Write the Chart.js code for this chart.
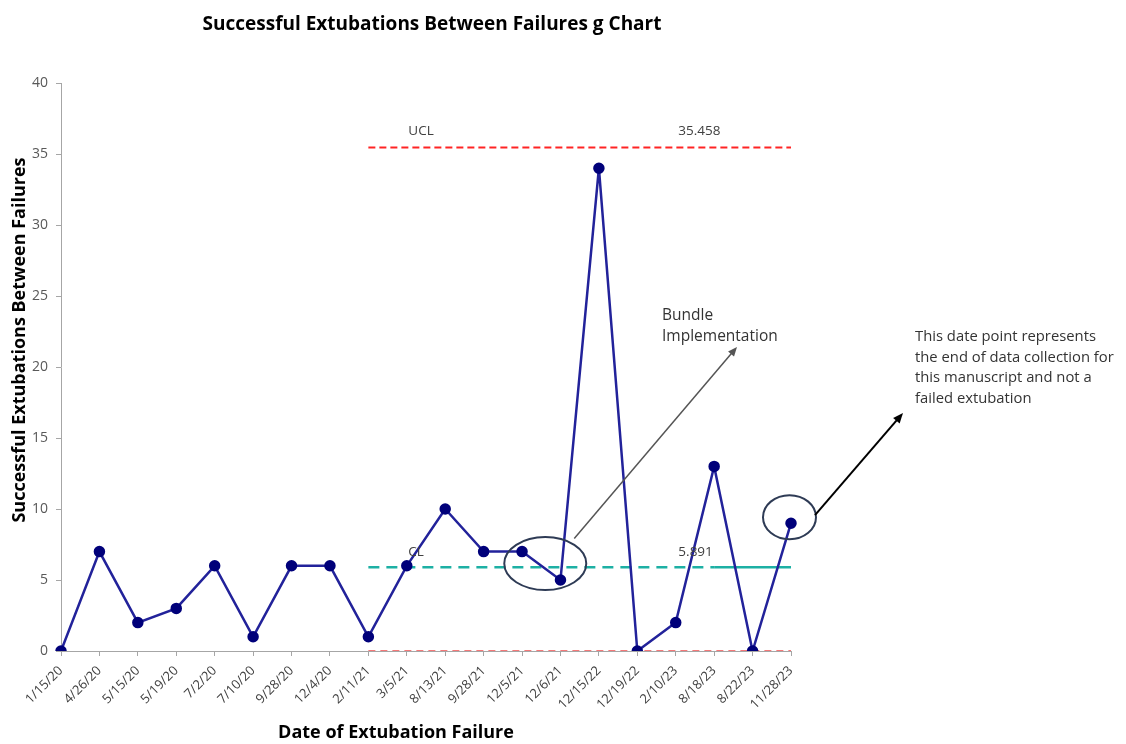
<!DOCTYPE html>
<html><head><meta charset="utf-8">
<script src="https://cdn.jsdelivr.net/npm/chart.js@4.4.1/dist/chart.umd.min.js"></script>
<style>html,body{margin:0;padding:0;background:#fff;}#wrap{width:1126px;height:744px;}</style>
</head><body><div id="wrap"><canvas id="c" width="1126" height="744"></canvas></div>
<script>
const categories = ['1/15/20','4/26/20','5/15/20','5/19/20','7/2/20','7/10/20','9/28/20','12/4/20','2/11/21','3/5/21','8/13/21','9/28/21','12/5/21','12/6/21','12/15/22','12/19/22','2/10/23','8/18/23','8/22/23','11/28/23'];
const values = [0,7,2,3,6,1,6,6,1,6,10,7,7,5,34,0,2,13,0,9];
const uclValue = 35.458;
const clValue = 5.891;
const lclValue = 0;
const limitStartIndex = 8;
const yMin = 0, yMax = 40, yStep = 5;
const chartTitle = 'Successful Extubations Between Failures g Chart';
const yTitle = 'Successful Extubations Between Failures';
const xTitle = 'Date of Extubation Failure';
const bundleNote = ['Bundle', 'Implementation'];
const endNote = ['This date point represents', 'the end of data collection for', 'this manuscript and not a', 'failed extubation'];

const limitSeries = v => categories.map((_, i) => i >= limitStartIndex ? v : null);
const FONT = "'Open Sans', 'DejaVu Sans', sans-serif";

function arrow(ctx, x1, y1, x2, y2, color, w, head) {
  ctx.save();
  ctx.strokeStyle = color; ctx.fillStyle = color; ctx.lineWidth = w;
  const a = Math.atan2(y2 - y1, x2 - x1);
  ctx.beginPath(); ctx.moveTo(x1, y1);
  ctx.lineTo(x2 - Math.cos(a) * head * 0.8, y2 - Math.sin(a) * head * 0.8); ctx.stroke();
  ctx.beginPath(); ctx.moveTo(x2, y2);
  ctx.lineTo(x2 - head * Math.cos(a - 0.4), y2 - head * Math.sin(a - 0.4));
  ctx.lineTo(x2 - head * Math.cos(a + 0.4), y2 - head * Math.sin(a + 0.4));
  ctx.closePath(); ctx.fill();
  ctx.restore();
}

const annot = {
  id: 'annot',
  afterDraw(chart) {
    const ctx = chart.ctx, xs = chart.scales.x, ys = chart.scales.y;
    const xAt = i => xs.getPixelForValue(i), yAt = v => ys.getPixelForValue(v);
    ctx.save();
    // titles
    ctx.fillStyle = '#000'; ctx.textAlign = 'center'; ctx.textBaseline = 'middle';
    ctx.font = "bold 19px " + FONT;
    ctx.fillText(chartTitle, 432, 25);
    ctx.font = "bold 18px " + FONT;
    ctx.fillText(xTitle, 396, 733);
    ctx.save();
    ctx.translate(20, 340); ctx.rotate(-Math.PI / 2);
    ctx.fillText(yTitle, 0, 0);
    ctx.restore();
    // limit labels
    ctx.fillStyle = '#404040'; ctx.font = "13.5px " + FONT; ctx.textAlign = 'left';
    const xl = xAt(limitStartIndex);
    ctx.fillText('UCL', xl + 40, yAt(uclValue) - 16);
    ctx.fillText(uclValue.toFixed(3), xl + 310, yAt(uclValue) - 16);
    ctx.fillText('CL', xl + 40, yAt(clValue) - 15);
    ctx.fillText(clValue.toFixed(3), xl + 310, yAt(clValue) - 15);
    // ellipses
    ctx.strokeStyle = '#2E3B55'; ctx.lineWidth = 2;
    const e1x = (xAt(12) + xAt(13)) / 2 + 4, e1y = yAt(6.16);
    ctx.beginPath(); ctx.ellipse(e1x, e1y, 41, 26.5, 0, 0, Math.PI * 2); ctx.stroke();
    const e2x = xAt(19) - 1.5, e2y = yAt(9) - 6;
    ctx.beginPath(); ctx.ellipse(e2x, e2y, 26.5, 22, 0, 0, Math.PI * 2); ctx.stroke();
    // arrows
    arrow(ctx, e1x + 29, e1y - 25, 737, 347, '#555555', 1.5, 10);
    arrow(ctx, e2x + 25.5, e2y - 2, 903, 413, '#000000', 2, 11);
    // notes
    ctx.fillStyle = '#333333'; ctx.font = "15.5px " + FONT; ctx.textAlign = 'left';
    bundleNote.forEach((t, i) => ctx.fillText(t, 662, 316 + i * 21));
    ctx.font = "14.8px " + FONT;
    endNote.forEach((t, i) => ctx.fillText(t, 915, 337 + i * 20.5));
    ctx.restore();
  }
};

new Chart(document.getElementById('c'), {
  type: 'line',
  data: {
    labels: categories,
    datasets: [
      { label: 'g', data: values, borderColor: '#22229A', borderWidth: 2.5, pointRadius: 4.5,
        pointBackgroundColor: '#00007A', pointBorderColor: '#00007A', tension: 0 },
      { label: 'UCL', data: limitSeries(uclValue), borderColor: '#FF2424', borderWidth: 2,
        borderDash: [7, 4], pointRadius: 0, spanGaps: false },
      { label: 'CL', data: limitSeries(clValue), borderColor: '#1DB0A4', borderWidth: 2.5,
        pointRadius: 0,
        segment: { borderDash: c => c.p0DataIndex >= 17 ? [] : [11, 7] } },
      { label: 'LCL', data: limitSeries(lclValue), borderColor: '#F47878', borderWidth: 2,
        borderDash: [7, 5], pointRadius: 0 }
    ]
  },
  options: {
    responsive: false, animation: false, devicePixelRatio: 1,
    layout: { padding: { top: 83, right: 335, left: 0, bottom: 0 } },
    plugins: { legend: { display: false }, tooltip: { enabled: false }, title: { display: false } },
    scales: {
      x: {
        offset: false,
        afterFit: s => { s.height = 93; },
        grid: { drawOnChartArea: false, drawTicks: true, tickLength: 5, color: '#A6A6A6' },
        border: { color: '#A6A6A6', width: 1 },
        ticks: { autoSkip: false, maxRotation: 45, minRotation: 45, color: '#404040',
          font: { family: FONT, size: 13 }, padding: 7 }
      },
      y: {
        min: yMin, max: yMax,
        afterFit: s => { s.width = 61; },
        grid: { drawOnChartArea: false, drawTicks: true, tickLength: 5, color: '#A6A6A6' },
        border: { color: '#A6A6A6', width: 1 },
        ticks: { stepSize: yStep, color: '#595959', font: { family: FONT, size: 14 }, padding: 8 }
      }
    }
  },
  plugins: [annot]
});
</script></body></html>
